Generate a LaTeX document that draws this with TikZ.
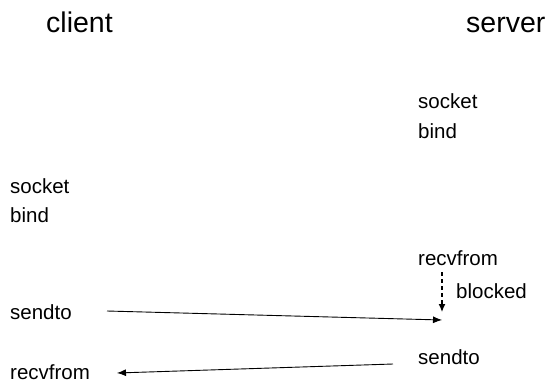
\documentclass[tikz,border=0pt]{standalone}
\usepackage{fontspec}
\setmainfont{Liberation Sans}
\usetikzlibrary{arrows.meta}
\begin{document}
\begin{tikzpicture}[x=1pt,y=-1pt,
  title/.style={anchor=base west,inner sep=0pt,font=\fontsize{28.5}{30}\selectfont},
  lbl/.style={anchor=base west,inner sep=0pt,font=\fontsize{20.5}{22}\selectfont},
  msg/.style={line width=0.9pt,-{Latex[length=9pt,width=7pt]}},
  wait/.style={line width=1.3pt,dash pattern=on 4pt off 3pt,-{Latex[length=8pt,width=7pt]}}]
\useasboundingbox (0,0) rectangle (548,383);
\node[title] (client) at (46,32) {client};
\node[title] (server) at (466,32) {server};
\node[lbl] (ssocket) at (418,108) {socket};
\node[lbl] (sbind) at (418,138) {bind};
\node[lbl] (csocket) at (10,193) {socket};
\node[lbl] (cbind) at (10,222) {bind};
\node[lbl] (srecv) at (418,265) {recvfrom};
\node[lbl] (blocked) at (456,298) {blocked};
\node[lbl] (csend) at (10,319) {sendto};
\node[lbl] (ssend) at (418,364) {sendto};
\node[lbl] (crecv) at (10,379) {recvfrom};
\coordinate (a1) at (107,311);
\coordinate (a2) at (442,320);
\coordinate (d1) at (442,272);
\coordinate (d2) at (442,312);
\coordinate (r1) at (393,364);
\coordinate (r2) at (117,373);
\draw[msg] (a1) -- (a2);
\draw[wait] (d1) -- (d2);
\draw[msg] (r1) -- (r2);
\end{tikzpicture}
\end{document}
